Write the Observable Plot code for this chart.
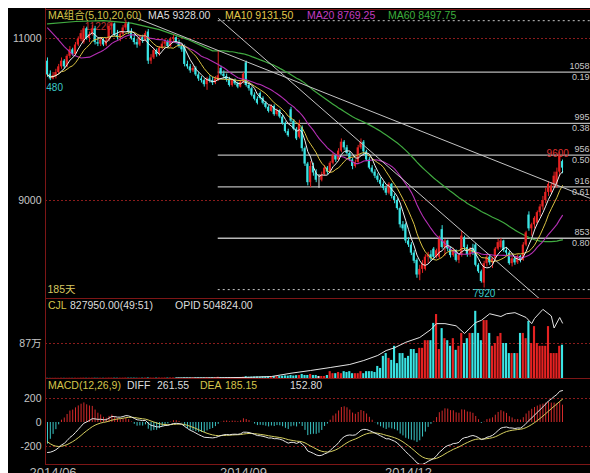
<!DOCTYPE html>
<html><head><meta charset="utf-8">
<script src="https://cdn.jsdelivr.net/npm/d3@7"></script>
<script src="https://cdn.jsdelivr.net/npm/@observablehq/plot@0.6"></script>
<style>
html,body{margin:0;padding:0;background:#fff;}
#wrap{position:relative;width:590px;height:473px;background:#fff;overflow:hidden;font-family:"Liberation Sans","Noto Sans CJK SC",sans-serif;}
#panel{position:absolute;left:8px;top:8px;width:582px;height:465px;background:#000;}
.pl{position:absolute;left:8px;}
.fr{position:absolute;background:#7d1616;}
.hd{position:absolute;font-size:10.5px;line-height:12px;white-space:nowrap;}
</style></head><body><div id="wrap"><div id="panel"></div></div>
<script>
// ---------- data ----------
const open = [10720,10560,10500,10540,10580,10650,10720,10650,10780,10860,
10800,10920,10990,10950,11120,11000,11050,11120,10950,10930,
10980,10920,10970,11150,11180,11040,11010,11050,11130,11180,
11080,11000,10950,10920,11010,10980,11080,10720,10760,10850,
10800,10880,10930,10960,10900,10990,11010,10950,10900,10900,
10680,10650,10600,10630,10550,10500,10480,10430,10500,10480,
10450,10480,10630,10560,10530,10490,10420,10480,10440,10400,
10460,10700,10420,10380,10300,10250,10320,10260,10200,10150,
10100,10160,10060,10110,10030,9950,9850,10120,9980,9880,
9780,9900,9640,9450,9220,9420,9340,9250,9250,9320,
9400,9350,9460,9550,9500,9610,9720,9650,9580,9500,
9420,9470,9650,9720,9600,9500,9400,9350,9300,9250,
9200,9150,9090,9200,9050,9000,8900,8700,8700,8500,
8450,8350,8260,8080,8150,8150,8300,8330,8400,8300,
8300,8640,8420,8500,8400,8320,8380,8260,8320,8540,
8420,8330,8400,8450,8200,8120,7980,8220,8300,8230,
8280,8400,8420,8500,8380,8350,8220,8280,8230,8310,
8260,8450,8820,8650,8700,8720,8850,8920,9000,9100,
9100,9180,9200,9350,9480];
const high = [10760,10600,10580,10620,10680,10760,10740,10800,10900,10880,
10950,11020,11100,11150,11140,11080,11160,11150,11000,11010,
11000,11000,11180,11200,11190,11100,11080,11160,11220,11200,
11120,11050,10990,11040,11040,11090,11110,10800,10880,10870,
10900,10960,10990,10980,11010,11040,11020,10980,10930,10920,
10720,10680,10660,10650,10580,10530,10500,10520,10540,10520,
10530,10850,10660,10600,10560,10520,10500,10500,10460,10480,
10580,10720,10450,10400,10330,10280,10340,10280,10220,10170,
10180,10180,10130,10120,10050,9970,9880,10150,10000,9900,
9990,9920,9660,9470,9480,9460,9380,9320,9350,9430,
9420,9480,9580,9570,9640,9760,9740,9680,9600,9520,
9500,9680,9760,9740,9620,9530,9430,9380,9330,9280,
9230,9180,9220,9210,9080,9020,8920,8740,8720,8540,
8480,8380,8280,8200,8260,8330,8360,8380,8420,8400,
8560,8690,8520,8510,8420,8410,8390,8340,8620,8560,
8450,8420,8460,8470,8220,8140,8250,8330,8320,8300,
8420,8520,8530,8510,8420,8370,8300,8300,8330,8320,
8480,8620,8860,8720,8800,8870,8950,9050,9150,9230,
9220,9350,9400,9600,9500];
const low = [10520,10480,10490,10500,10560,10620,10620,10640,10750,10780,
10790,10900,10960,10930,10980,10950,11030,10920,10900,10900,
10900,10900,10960,11050,11020,10980,10960,11030,11100,11050,
10980,10920,10880,10900,10940,10960,10680,10680,10740,10770,
10780,10860,10900,10880,10890,10960,10930,10880,10830,10650,
10620,10570,10580,10530,10470,10450,10400,10360,10450,10420,
10430,10470,10540,10500,10460,10400,10400,10420,10380,10390,
10440,10400,10350,10280,10230,10180,10240,10180,10130,10080,
10090,10040,10040,10010,9930,9830,9780,9960,9860,9740,
9760,9600,9420,9180,9160,9300,9220,9150,9230,9300,
9320,9340,9440,9470,9480,9590,9620,9560,9480,9380,
9400,9460,9630,9560,9480,9380,9330,9270,9220,9170,
9120,9060,9070,9020,8960,8880,8660,8620,8470,8420,
8320,8220,8040,8010,8100,8130,8220,8250,8280,8280,
8280,8400,8310,8370,8290,8300,8240,8220,8300,8380,
8300,8300,8320,8180,8100,7980,7920,8180,8200,8160,
8260,8380,8400,8360,8320,8200,8180,8200,8210,8230,
8250,8430,8620,8560,8650,8700,8800,8880,8960,9050,
9080,9150,9150,9300,9330];
const close = [10550,10500,10540,10580,10650,10720,10650,10780,10860,10800,
10920,10990,11060,11120,11000,11050,11120,10950,10930,10980,
10920,10970,11150,11180,11040,11010,11050,11130,11180,11080,
11000,10950,10920,11010,10980,11060,10720,10760,10850,10800,
10880,10930,10960,10900,10990,11010,10950,10900,10860,10680,
10650,10600,10630,10550,10500,10480,10430,10500,10480,10450,
10500,10540,10560,10530,10490,10420,10480,10440,10400,10460,
10560,10420,10380,10300,10250,10200,10260,10200,10150,10100,
10160,10060,10110,10030,9950,9850,9800,9980,9880,9760,
9950,9640,9450,9220,9420,9340,9250,9250,9320,9400,
9350,9460,9550,9500,9610,9720,9650,9580,9500,9420,
9470,9650,9720,9600,9500,9400,9350,9300,9250,9200,
9150,9090,9200,9050,9000,8900,8700,8650,8500,8450,
8350,8250,8080,8150,8220,8300,8330,8280,8300,8380,
8520,8420,8500,8400,8320,8380,8260,8320,8560,8420,
8330,8400,8350,8200,8120,8000,8220,8300,8230,8280,
8400,8480,8500,8380,8350,8220,8280,8230,8310,8260,
8450,8600,8650,8700,8780,8850,8920,9000,9100,9200,
9180,9300,9350,9550,9400];
// volume in 万 (10k contracts)
const volume = [0.4,0.3,0.4,0.5,0.4,0.6,0.4,0.5,0.6,0.4,
0.6,0.5,0.7,0.8,0.5,0.6,0.7,0.6,0.5,0.6,
0.5,0.6,0.9,0.8,0.7,0.6,0.7,0.8,1.0,0.8,
0.7,0.8,0.6,0.7,0.8,0.9,1.3,0.9,0.8,0.9,
1.0,0.9,1.1,1.0,1.2,1.1,1.2,1.3,1.2,1.8,
1.5,1.4,1.3,1.6,1.8,1.5,1.7,2.0,1.6,1.8,
1.9,3.0,2.2,2.0,2.1,2.4,2.2,2.3,2.5,2.4,
3.0,4.5,3.2,3.5,3.8,4.0,3.6,4.2,4.0,4.4,
4.5,5.0,4.6,5.2,5.8,6.5,6.0,7.5,6.2,7.0,
7.5,10,7.5,7.5,10,7.5,7.5,5,5,5,
7.5,17,12,12,15,12,17,15,17,12,
12,12,17,12,17,17,17,15,30,25,
55,62,50,45,80,37,62,62,50,55,
72,72,62,75,75,94,94,94,137,159,
72,124,99,94,80,99,70,80,112,87,
99,112,112,167,112,94,144,144,112,80,
87,104,112,87,87,62,62,62,62,112,
112,99,142,87,129,87,80,80,80,129,
62,62,62,80,82.8];
// open interest (万), sampled days
const oiDay = [46,60,71,80,87,94,101,108,113,118,121,124,128,133,137,139,142,146,149,153,155,158,162,164,167,171,173,174,177,180,181,183,184];
const oiVal = [0.4,0.6,1.0,1.8,4.8,7.3,10,12.8,16.4,21,25.5,28,33,37.4,44.7,50,50,48,41,51,53,59,56.5,59,60,55.6,50,54.7,63,57,46,55.6,50.5];
// moving-average values before a full window exists
const ma20LeadDay = [0,3,6,9,12,15,18];
const ma20LeadVal = [11130,11020,10900,10800,10760,10770,10820];
const ma60LeadDay = [0,10,20,30,40,50];
const ma60LeadVal = [11180,11210,11220,11190,11110,10990];
// MACD state at first day
const macdSeedDiff = -250, macdSeedDea = -160, macdSeedEma26 = 10950;
// golden-section levels (labels as visible at the right edge)
const fibLevel = [10586, 9952, 9560, 9168, 8534];
const fibText = ["1058", "995", "956", "916", "853"];
const fibRatio = ["0.19", "0.38", "0.50", "0.61", "0.80"];
const fibFromDay = 61;
const rangeHighLow = [11220, 7900];
// trend lines (day, price)
const trendFromDay = [32, 61], trendFromPrice = [11250, 11250];
const trendToDay = [194, 176], trendToPrice = [9025, 7780];
const dateDay = [2, 70, 129];
const dateText = ["2014/06", "2014/09", "2014/12"];
const priceTicks = [9000, 11000];
const volTicks = [87];
const macdTicks = [-200, 0, 200];

// ---------- derived ----------
const N = close.length;
const days = d3.range(N);
const rightDay = N + 12;
const UP = "#e62222", DOWN = "#3ae4e4", FLAT = "#e6e6e6";
const candles = days.map(i => ({i, o: open[i], h: high[i], l: low[i], c: close[i], vol: volume[i],
  col: close[i] > open[i] ? UP : close[i] < open[i] ? DOWN : FLAT}));
function sma(n, from = 0) {
  return days.filter(i => i >= from).map(i => ({i, v: d3.mean(close.slice(Math.max(0, i - n + 1), i + 1))}));
}
const ma5 = sma(5), ma10 = sma(10);
const ma20 = ma20LeadDay.map((d, k) => ({i: d, v: ma20LeadVal[k]})).concat(sma(20, 19));
const ma60 = ma60LeadDay.map((d, k) => ({i: d, v: ma60LeadVal[k]})).concat(sma(60, 59));
let e26 = macdSeedEma26, e12 = macdSeedEma26 + macdSeedDiff, dea = macdSeedDea;
const macd = days.map(i => {
  if (i > 0) { e12 += (close[i] - e12) * 2 / 13; e26 += (close[i] - e26) * 2 / 27; }
  const diff = e12 - e26;
  if (i > 0) dea += (diff - dea) * 2 / 10;
  return {i, diff, dea, hist: 2 * (diff - dea)};
});
const fibs = fibLevel.map((v, k) => ({v, t: fibText[k], r: fibRatio[k]}));
const hl = rangeHighLow.map(v => ({v}));
const trends = trendFromDay.map((d, k) => ({d1: d, p1: trendFromPrice[k], d2: trendToDay[k], p2: trendToPrice[k]}));
const iHigh = d3.maxIndex(high), iLow = d3.minIndex(low);
const peakMarks = [{i: iHigh, v: high[iHigh]}];
const troughMarks = [{i: iLow, v: low[iLow]}];
const leftLow = [{i: 1, v: low[1]}];
const lastHigh = [{i: N - 2, v: high[N - 2]}];
const dates = dateDay.map((d, k) => ({d, t: dateText[k]}));

// ---------- plots ----------
const W = 582;
const FONT = "Liberation Sans, Noto Sans CJK SC, sans-serif";
const xs = {domain: [0, N - 1], range: [39, 554], axis: null};
const style = {background: "transparent", color: "#c6c6c6", fontFamily: FONT, fontSize: "10px", overflow: "hidden"};
const M = {marginLeft: 37, marginRight: 0, marginTop: 0, marginBottom: 0};
const GRID = {stroke: "#8a1c1c", strokeDasharray: "2,2"};
const wrap = document.getElementById("wrap");
function place(node, top) { const d = document.createElement("div"); d.className = "pl"; d.style.top = top + "px"; d.appendChild(node); wrap.appendChild(d); }

const main = Plot.plot({
  width: W, height: 290, ...M, style, x: xs,
  y: {domain: [9000, 11000], range: [192, 30], axis: null},
  color: {type: "identity"},
  marks: [
    Plot.ruleY(priceTicks, GRID),
    Plot.axisY({ticks: priceTicks, tickSize: 0, tickPadding: 4, tickFormat: d => String(d), label: null, fontSize: 10.5}),
    Plot.ruleY(fibs, {y: "v", x1: fibFromDay, x2: rightDay, stroke: "#b8b8b8", strokeWidth: 1.3}),
    Plot.ruleY(hl, {y: "v", x1: fibFromDay, x2: rightDay, stroke: "#c8c8c8", strokeDasharray: "2,3"}),
    Plot.text(peakMarks, {x: "i", y: "v", text: d => String(d.v), textAnchor: "end", dx: -14, dy: 6, fill: "#b83030", fontSize: 10}),
    Plot.line(ma60, {x: "i", y: "v", stroke: "#40aa40", strokeWidth: 1.2}),
    Plot.ruleX(candles, {x: "i", y1: "l", y2: "h", stroke: "col", strokeWidth: 1}),
    Plot.rect(candles, {x1: d => d.i - 0.38, x2: d => d.i + 0.38, y1: "o", y2: "c", fill: "col"}),
    Plot.line(ma20, {x: "i", y: "v", stroke: "#b42fb4", strokeWidth: 1.1}),
    Plot.line(ma10, {x: "i", y: "v", stroke: "#dcc444", strokeWidth: 1}),
    Plot.line(ma5, {x: "i", y: "v", stroke: "#eeeeee", strokeWidth: 1}),
    Plot.link(trends, {x1: "d1", y1: "p1", x2: "d2", y2: "p2", stroke: "#c4c4c4", strokeWidth: 1}),
    Plot.text(fibs, {y: "v", text: "t", frameAnchor: "right", textAnchor: "end", dx: -1, dy: -6, fontSize: 9, fill: "#c8c8c8"}),
    Plot.text(fibs, {y: "v", text: "r", frameAnchor: "right", textAnchor: "end", dx: -1, dy: 5, fontSize: 9, fill: "#c8c8c8"}),
    Plot.text(troughMarks, {x: "i", y: "v", text: d => String(d.v), dy: 6, fill: "#3cc8c8", fontSize: 10}),
    Plot.text(leftLow, {x: "i", y: "v", text: d => String(d.v).slice(-3), textAnchor: "start", dx: -4, dy: 7, fill: "#3cc8c8", fontSize: 10}),
    Plot.text(lastHigh, {x: "i", y: "v", text: d => String(d.v), dx: -2, dy: 2, fill: "#e03030", fontSize: 10}),
    Plot.text(["185天"], {frameAnchor: "bottom-left", textAnchor: "start", dx: 2, dy: -6, fill: "#d8c860", fontSize: 10.5})
  ]
});
place(main, 8);

const vol = Plot.plot({
  width: W, height: 80, ...M, style, x: xs,
  y: {domain: [0, 87], range: [80, 45], axis: null},
  color: {type: "identity"},
  marks: [
    Plot.ruleY(volTicks, GRID),
    Plot.axisY({ticks: volTicks, tickSize: 0, tickPadding: 4, tickFormat: d => d + "万", label: null, fontSize: 10.5}),
    Plot.rect(candles, {x1: d => d.i - 0.38, x2: d => d.i + 0.38, y1: 0, y2: "vol", fill: "col"})
  ]
});
place(vol, 298);

const oi = Plot.plot({
  width: W, height: 80, ...M, style, x: xs,
  y: {domain: [0, 72], range: [80, 1], axis: null},
  marks: [
    Plot.line(oiDay.map((d, k) => ({d, v: oiVal[k]})), {x: "d", y: "v", stroke: "#e4e4e4", strokeWidth: 1})
  ]
});
place(oi, 298);

const mac = Plot.plot({
  width: W, height: 95, ...M, style, x: xs,
  y: {domain: [-200, 200], range: [68, 20], axis: null},
  color: {type: "identity"},
  marks: [
    Plot.ruleY([-200, 200], GRID),
    Plot.axisY({ticks: macdTicks, tickSize: 0, tickPadding: 4, tickFormat: d => String(d), label: null, fontSize: 10.5}),
    Plot.ruleX(macd, {x: "i", y1: 0, y2: "hist", stroke: d => d.hist >= 0 ? "#d42a2a" : "#3ac6c6", strokeWidth: 1}),
    Plot.line(macd, {x: "i", y: "dea", stroke: "#d6d060", strokeWidth: 1}),
    Plot.line(macd, {x: "i", y: "diff", stroke: "#e6e6e6", strokeWidth: 1}),
    Plot.text(dates, {x: "d", text: "t", frameAnchor: "bottom", lineAnchor: "middle", dy: -1, fontSize: 13, fill: "#bcbcbc"})
  ]
});
place(mac, 378);

// ---------- frame lines ----------
function fr(l, t, w, h) { const d = document.createElement("div"); d.className = "fr"; Object.assign(d.style, {left: l + "px", top: t + "px", width: w + "px", height: h + "px"}); wrap.appendChild(d); }
fr(45, 8, 1, 457);
fr(45, 9, 545, 1); fr(45, 298, 545, 1); fr(45, 378, 545, 1); fr(45, 464, 545, 1);

// ---------- headers ----------
const headers = [
  [15, [["MA组合(5,10,20,60)", "#d4c44a", 48], ["MA5 9328.00", "#dcdcdc", 148], ["MA10 9131.50", "#e2c84a", 225], ["MA20 8769.25", "#c23cc2", 307], ["MA60 8497.75", "#3cae3c", 388]]],
  [305, [["CJL", "#d4c44a", 48], ["827950.00(49:51)", "#dcdcdc", 70], ["OPID", "#dcdcdc", 175], ["504824.00", "#dcdcdc", 203]]],
  [385, [["MACD(12,26,9)", "#d4c44a", 48], ["DIFF", "#dcdcdc", 127], ["261.55", "#dcdcdc", 157], ["DEA", "#d4c44a", 200], ["185.15", "#d4c44a", 225], ["152.80", "#dcdcdc", 290]]]
];
for (const [cy, parts] of headers) for (const [t, c, x] of parts) {
  const s = document.createElement("div"); s.className = "hd"; s.textContent = t;
  Object.assign(s.style, {left: x + "px", top: (cy - 6) + "px", color: c}); wrap.appendChild(s);
}
</script></body></html>
